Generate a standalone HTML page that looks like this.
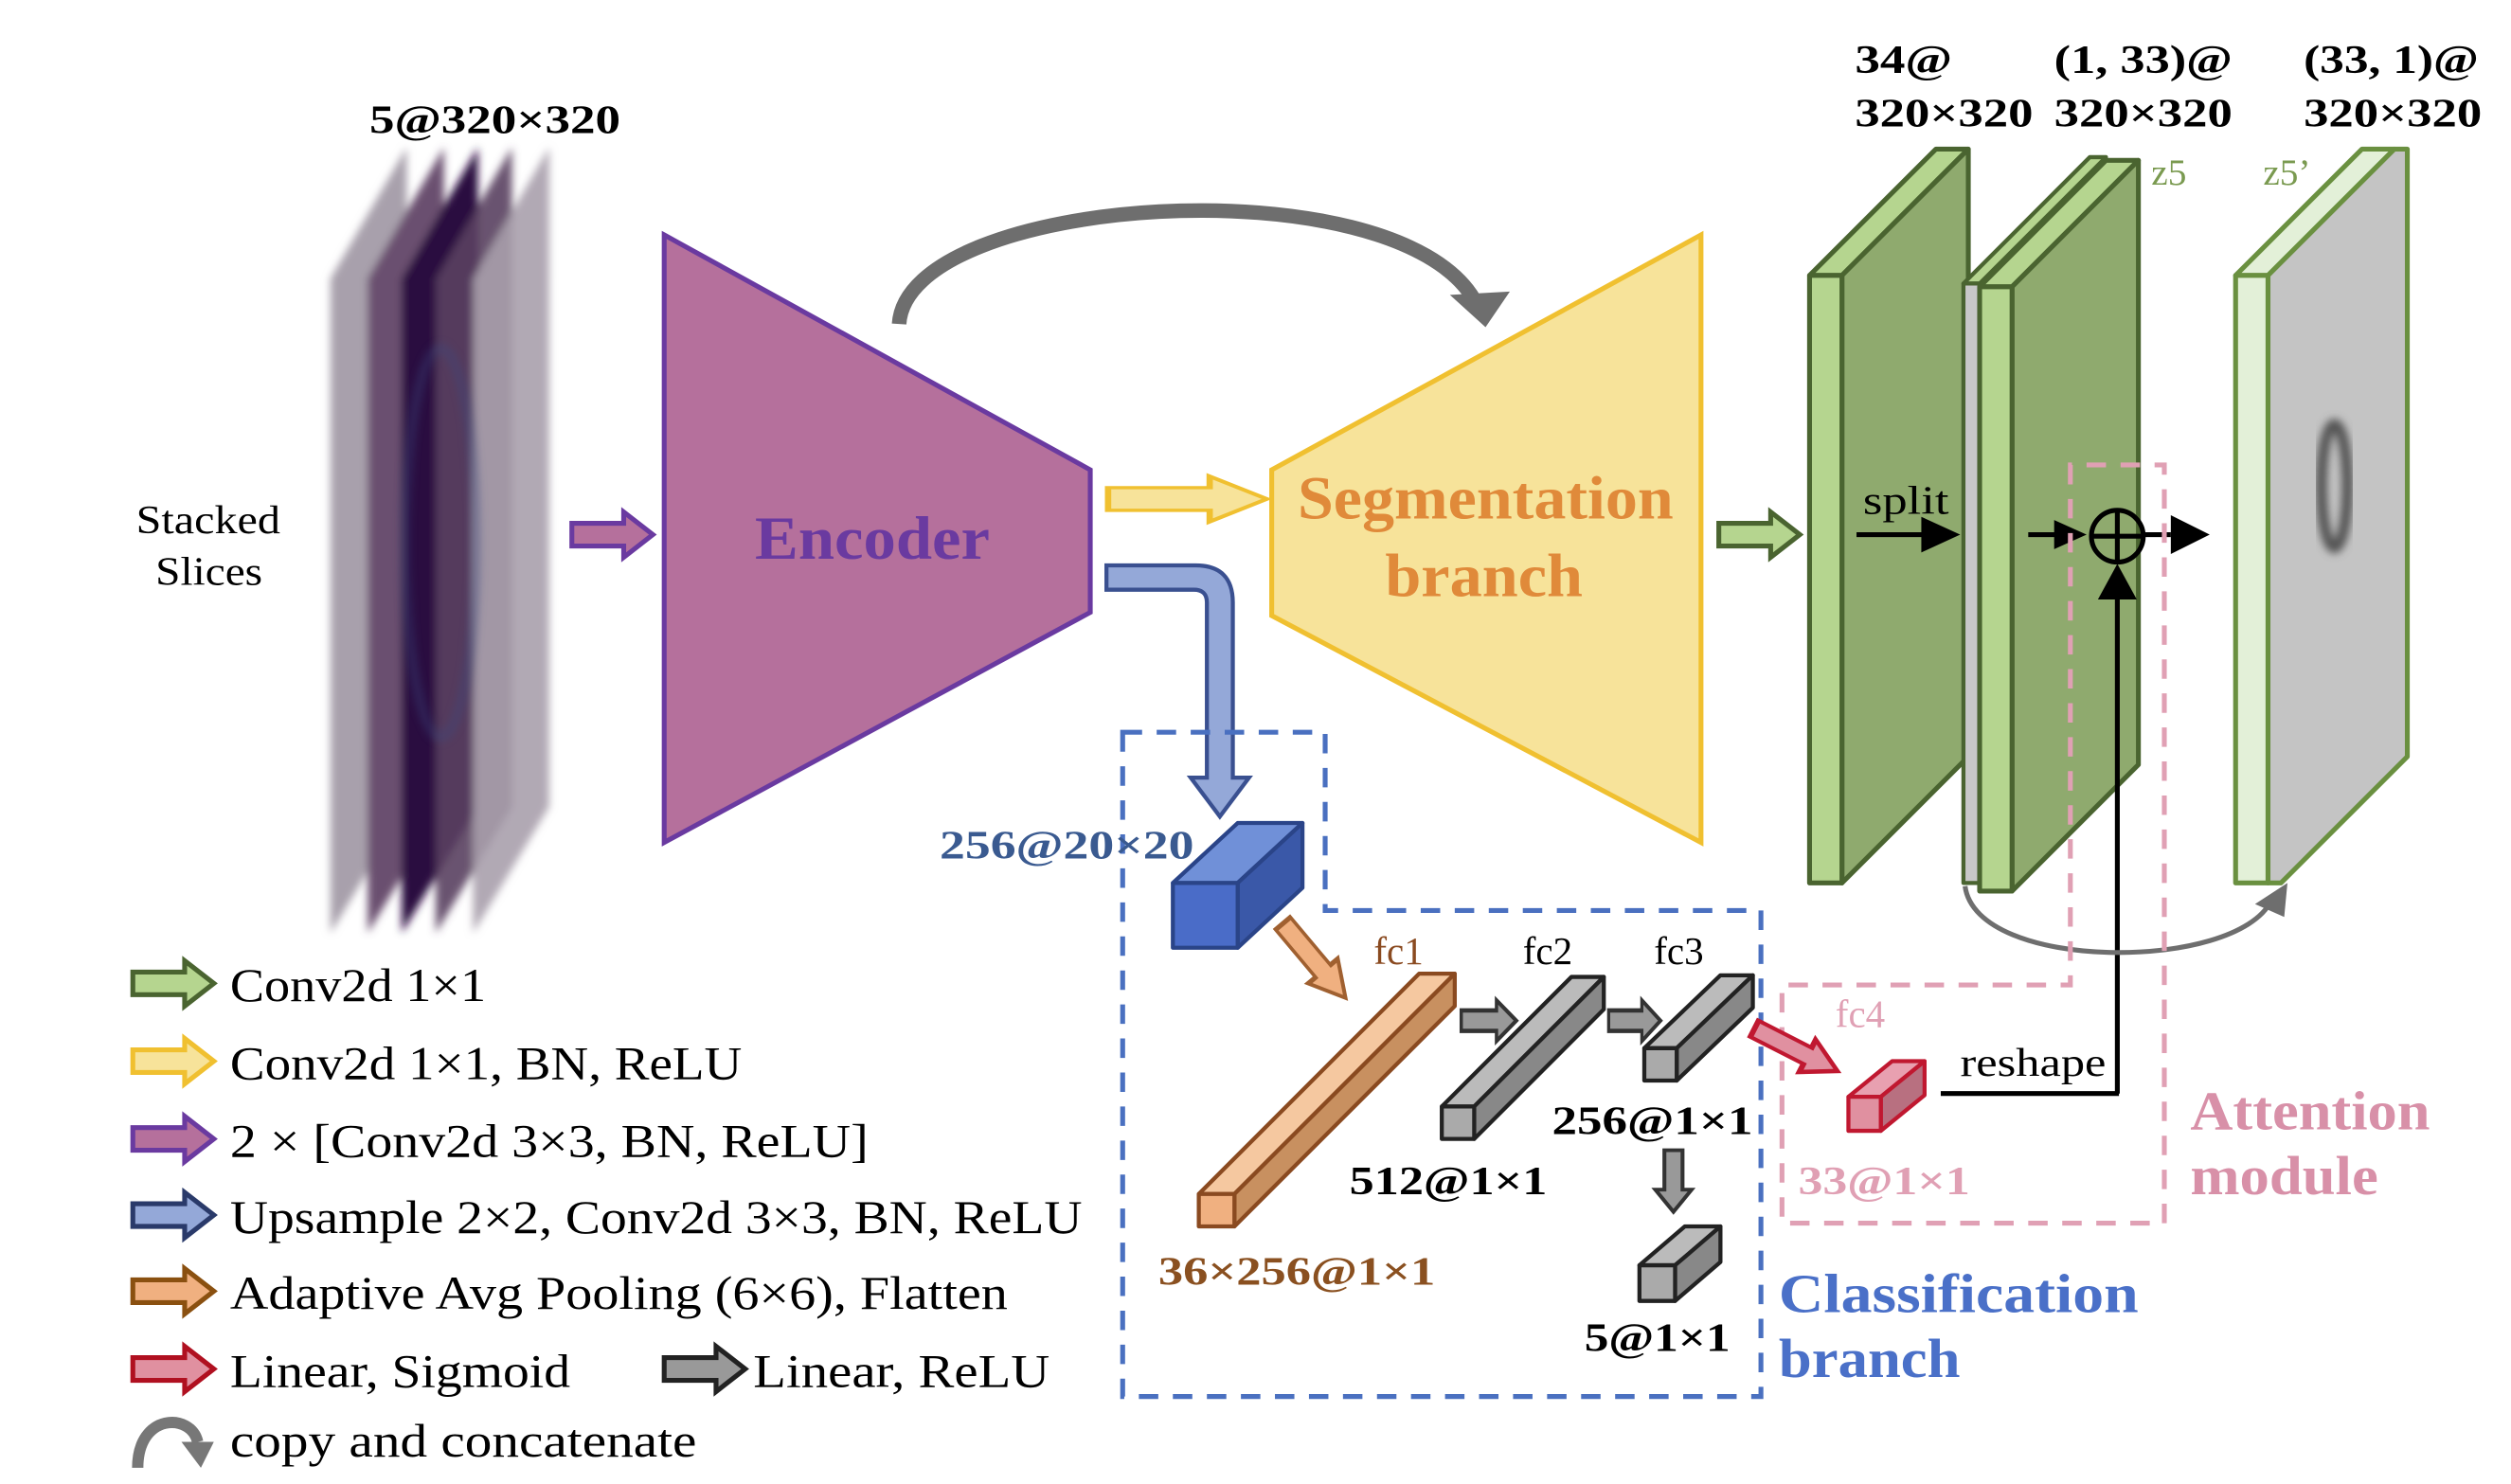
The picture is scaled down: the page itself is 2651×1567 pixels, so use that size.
<!DOCTYPE html>
<html><head><meta charset="utf-8"><style>
html,body{margin:0;padding:0;background:#fff;}
svg{display:block;}
text{font-family:"Liberation Serif",serif;}
</style></head><body>
<svg width="2651" height="1567" viewBox="0 0 1550 916" preserveAspectRatio="none" xmlns="http://www.w3.org/2000/svg">
<defs>
<filter id="bl" x="-20%" y="-20%" width="140%" height="140%"><feGaussianBlur stdDeviation="2.5"/></filter>
<path id="ar" d="M0,-7 H32 V-14 L50,0 L32,14 V7 H0Z"/>
</defs>

<g filter="url(#bl)">
<polygon points="204,172 251,91 251,498 204,576" fill="#a8a0ac"/>
<polygon points="227,172 274,91 274,498 227,576" fill="#6a5070"/>
<polygon points="248,172 295,91 295,498 248,576" fill="#2a0840"/>
<polygon points="269,172 316,91 316,498 269,576" fill="#5a4060" opacity="0.9"/>
<polygon points="292,172 339,91 339,498 292,576" fill="#a8a0ac" opacity="0.9"/>
</g>
<ellipse cx="272" cy="335" rx="22" ry="120" fill="none" stroke="#3a4a80" stroke-width="6" opacity="0.35" filter="url(#bl)"/>
<text x="228" y="82" font-size="25" font-weight="bold" textLength="155" lengthAdjust="spacingAndGlyphs">5@320×320</text>
<text x="84" y="329" font-size="25" textLength="89" lengthAdjust="spacingAndGlyphs">Stacked</text>
<text x="96" y="361" font-size="25" textLength="66" lengthAdjust="spacingAndGlyphs">Slices</text>

<use href="#ar" transform="translate(353,330)" fill="#b5709c" stroke="#6a3aa0" stroke-width="3"/>

<polygon points="410,145 673,290 673,378 410,520" fill="#b5709c" stroke="#6a3aa0" stroke-width="3"/>
<text x="466" y="345" font-size="38" font-weight="bold" fill="#6a3aa0" textLength="145" lengthAdjust="spacingAndGlyphs">Encoder</text>

<path d="M555,200 C560,120 860,100 910,185" fill="none" stroke="#6e6e6e" stroke-width="9"/>
<polygon points="895,182 932,180 917,202" fill="#6e6e6e"/>

<use href="#ar" transform="translate(684,308) scale(1.96,1)" fill="#f7e39a" stroke="#f0c030" stroke-width="2"/>

<path d="M683,349 H738 Q761,349 761,372 V480 H771 L753,504 L735,480 H745 V372 Q745,364 737,364 H683 Z" fill="#94a8d8" stroke="#3a5090" stroke-width="2.5"/>

<polygon points="785,290 1050,145 1050,520 785,380" fill="#f7e39a" stroke="#f0c030" stroke-width="3"/>
<text x="801" y="320" font-size="38" font-weight="bold" fill="#e08a3a" textLength="232" lengthAdjust="spacingAndGlyphs">Segmentation</text>
<text x="855" y="368" font-size="38" font-weight="bold" fill="#e08a3a" textLength="122" lengthAdjust="spacingAndGlyphs">branch</text>

<use href="#ar" transform="translate(1061,330)" fill="#b5d58f" stroke="#4a6430" stroke-width="3"/>

<g stroke="#4a6430" stroke-width="3" stroke-linejoin="round">
<polygon points="1117,170 1137,170 1215,92 1195,92" fill="#b5d58f"/>
<polygon points="1137,170 1215,92 1215,467 1137,545" fill="#8faa6e"/>
<rect x="1117" y="170" width="20" height="375" fill="#b5d58f"/>
</g>
<g stroke="#4a6430" stroke-width="2.5" stroke-linejoin="round">
<polygon points="1212,175 1222,175 1300,97 1290,97" fill="#b5d58f"/>
<rect x="1212" y="175" width="10" height="370" fill="#c8c8c8"/>
</g>
<g stroke="#4a6430" stroke-width="3" stroke-linejoin="round">
<polygon points="1222,177 1242,177 1320,99 1300,99" fill="#b5d58f"/>
<polygon points="1242,177 1320,99 1320,472 1242,550" fill="#8faa6e"/>
<rect x="1222" y="177" width="20" height="373" fill="#b5d58f"/>
</g>
<g stroke="#6a9040" stroke-width="3" stroke-linejoin="round">
<polygon points="1380,170 1400,170 1478,92 1458,92" fill="#e3f0d8"/>
<polygon points="1400,170 1478,92 1486,92 1486,467 1408,545 1400,545" fill="#c4c4c4"/>
<rect x="1380" y="170" width="20" height="375" fill="#e3f0d8"/>
</g>
<ellipse cx="1441" cy="300" rx="8" ry="38" fill="none" stroke="#555" stroke-width="7" filter="url(#bl)"/>

<g font-size="25" font-weight="bold">
<text x="1145" y="45" textLength="60" lengthAdjust="spacingAndGlyphs">34@</text>
<text x="1145" y="78" textLength="110" lengthAdjust="spacingAndGlyphs">320×320</text>
<text x="1268" y="45" textLength="110" lengthAdjust="spacingAndGlyphs">(1, 33)@</text>
<text x="1268" y="78" textLength="110" lengthAdjust="spacingAndGlyphs">320×320</text>
<text x="1422" y="45" textLength="108" lengthAdjust="spacingAndGlyphs">(33, 1)@</text>
<text x="1422" y="78" textLength="110" lengthAdjust="spacingAndGlyphs">320×320</text>
</g>
<text x="1328" y="114" font-size="23" fill="#7a9a50">z5</text>
<text x="1397" y="114" font-size="23" fill="#7a9a50">z5’</text>

<text x="1150" y="317" font-size="25" textLength="53" lengthAdjust="spacingAndGlyphs">split</text>
<line x1="1146" y1="330" x2="1188" y2="330" stroke="#000" stroke-width="3"/>
<polygon points="1186,319 1210,330 1186,341" fill="#000"/>
<line x1="1252" y1="330" x2="1272" y2="330" stroke="#000" stroke-width="3"/>
<polygon points="1268,321 1288,330 1268,339" fill="#000"/>
<circle cx="1307" cy="331" r="16" fill="none" stroke="#000" stroke-width="3"/>
<line x1="1291" y1="331" x2="1323" y2="331" stroke="#000" stroke-width="3"/>
<line x1="1307" y1="315" x2="1307" y2="347" stroke="#000" stroke-width="3"/>
<line x1="1323" y1="330" x2="1340" y2="330" stroke="#000" stroke-width="3"/>
<polygon points="1340,318 1364,330 1340,342" fill="#000"/>
<line x1="1307" y1="675" x2="1307" y2="368" stroke="#000" stroke-width="3"/>
<polygon points="1295,370 1307,348 1319,370" fill="#000"/>
<line x1="1198" y1="675" x2="1308" y2="675" stroke="#000" stroke-width="3"/>
<text x="1210" y="664" font-size="25" textLength="90" lengthAdjust="spacingAndGlyphs">reshape</text>

<path d="M1213,547 C1220,600 1380,600 1402,556" fill="none" stroke="#6e6e6e" stroke-width="3"/>
<polygon points="1392,558 1412,545 1410,566" fill="#6e6e6e"/>

<path d="M1278,287 V608 H1100 V755 H1336 V287 Z" fill="none" stroke="#e0a0b4" stroke-width="3" stroke-dasharray="12,9"/>
<text x="1352" y="697" font-size="34" font-weight="bold" fill="#d890a8" textLength="148" lengthAdjust="spacingAndGlyphs">Attention</text>
<text x="1352" y="737" font-size="34" font-weight="bold" fill="#d890a8" textLength="116" lengthAdjust="spacingAndGlyphs">module</text>

<path d="M693,452 H818 V562 H1087 V862 H693 Z" fill="none" stroke="#4a70c0" stroke-width="3" stroke-dasharray="12,9"/>
<text x="1098" y="810" font-size="34" font-weight="bold" fill="#4a70c8" textLength="222" lengthAdjust="spacingAndGlyphs">Classification</text>
<text x="1098" y="850" font-size="34" font-weight="bold" fill="#4a70c8" textLength="112" lengthAdjust="spacingAndGlyphs">branch</text>

<g stroke="#2a4488" stroke-width="2.5" stroke-linejoin="round">
<polygon points="724,545 764,545 804,508 764,508" fill="#7090d8"/>
<polygon points="764,545 804,508 804,548 764,585" fill="#3a58a8"/>
<rect x="724" y="545" width="40" height="40" fill="#4a6cc8"/>
</g>
<text x="580" y="530" font-size="25" font-weight="bold" fill="#3a5a90" textLength="157" lengthAdjust="spacingAndGlyphs">256@20×20</text>

<use href="#ar" transform="translate(792,570) rotate(50) scale(1.2,0.85)" fill="#f0b080" stroke="#a06030" stroke-width="2.5"/>

<g stroke="#8a4a20" stroke-width="2.5" stroke-linejoin="round">
<polygon points="740,737 762,737 898,601 876,601" fill="#f5c8a0"/>
<polygon points="762,737 898,601 898,621 762,757" fill="#c89060"/>
<rect x="740" y="737" width="22" height="20" fill="#f0b080"/>
</g>
<text x="848" y="595" font-size="24" fill="#8a4a20">fc1</text>
<text x="715" y="793" font-size="25" font-weight="bold" fill="#8a5020" textLength="171" lengthAdjust="spacingAndGlyphs">36×256@1×1</text>

<use href="#ar" transform="translate(902,630) scale(0.68,0.9)" fill="#999" stroke="#333" stroke-width="3"/>
<g stroke="#222" stroke-width="2.5" stroke-linejoin="round">
<polygon points="890,683 910,683 990,603 970,603" fill="#bbb"/>
<polygon points="910,683 990,603 990,623 910,703" fill="#888"/>
<rect x="890" y="683" width="20" height="20" fill="#aaa"/>
</g>
<text x="940" y="595" font-size="24">fc2</text>
<text x="833" y="737" font-size="25" font-weight="bold" textLength="122" lengthAdjust="spacingAndGlyphs">512@1×1</text>

<use href="#ar" transform="translate(993,630) scale(0.64,0.9)" fill="#999" stroke="#333" stroke-width="3"/>
<g stroke="#222" stroke-width="2.5" stroke-linejoin="round">
<polygon points="1015,647 1035,647 1082,602 1062,602" fill="#bbb"/>
<polygon points="1035,647 1082,602 1082,622 1035,667" fill="#888"/>
<rect x="1015" y="647" width="20" height="20" fill="#aaa"/>
</g>
<text x="1021" y="595" font-size="24">fc3</text>
<text x="958" y="700" font-size="25" font-weight="bold" textLength="124" lengthAdjust="spacingAndGlyphs">256@1×1</text>

<use href="#ar" transform="translate(1033,710) rotate(90) scale(0.76,0.8)" fill="#999" stroke="#333" stroke-width="3"/>
<g stroke="#222" stroke-width="2.5" stroke-linejoin="round">
<polygon points="1012,781 1034,781 1062,757 1040,757" fill="#bbb"/>
<polygon points="1034,781 1062,757 1062,779 1034,803" fill="#888"/>
<rect x="1012" y="781" width="22" height="22" fill="#aaa"/>
</g>
<text x="978" y="834" font-size="25" font-weight="bold" textLength="90" lengthAdjust="spacingAndGlyphs">5@1×1</text>

<use href="#ar" transform="translate(1083,635) rotate(27) scale(1.15,0.8)" fill="#e090a0" stroke="#c01830" stroke-width="3"/>
<g stroke="#c01830" stroke-width="2.5" stroke-linejoin="round">
<polygon points="1141,677 1161,677 1188,655 1168,655" fill="#e8a0b0"/>
<polygon points="1161,677 1188,655 1188,676 1161,698" fill="#b87080"/>
<rect x="1141" y="677" width="20" height="21" fill="#e090a0"/>
</g>
<text x="1133" y="634" font-size="24" fill="#e0a0b4">fc4</text>
<text x="1110" y="737" font-size="25" font-weight="bold" fill="#e0a0b4" textLength="106" lengthAdjust="spacingAndGlyphs">33@1×1</text>

<g stroke-width="3">
<use href="#ar" transform="translate(82,607)" fill="#b5d58f" stroke="#4a6430"/>
<use href="#ar" transform="translate(82,655)" fill="#f7e39a" stroke="#f0c030"/>
<use href="#ar" transform="translate(82,703)" fill="#b5709c" stroke="#6a3aa0"/>
<use href="#ar" transform="translate(82,750)" fill="#94a8d8" stroke="#2a3a6a"/>
<use href="#ar" transform="translate(82,797)" fill="#f0b080" stroke="#8a5010"/>
<use href="#ar" transform="translate(82,845)" fill="#e090a0" stroke="#b01020"/>
<use href="#ar" transform="translate(410,845)" fill="#999" stroke="#222"/>
</g>
<g font-size="29">
<text x="142" y="618" textLength="158" lengthAdjust="spacingAndGlyphs">Conv2d 1×1</text>
<text x="142" y="666" textLength="316" lengthAdjust="spacingAndGlyphs">Conv2d 1×1, BN, ReLU</text>
<text x="142" y="714" textLength="394" lengthAdjust="spacingAndGlyphs">2 × [Conv2d 3×3, BN, ReLU]</text>
<text x="142" y="761" textLength="526" lengthAdjust="spacingAndGlyphs">Upsample 2×2, Conv2d 3×3, BN, ReLU</text>
<text x="142" y="808" textLength="480" lengthAdjust="spacingAndGlyphs">Adaptive Avg Pooling (6×6), Flatten</text>
<text x="142" y="856" textLength="210" lengthAdjust="spacingAndGlyphs">Linear, Sigmoid</text>
<text x="465" y="856" textLength="183" lengthAdjust="spacingAndGlyphs">Linear, ReLU</text>
<text x="142" y="899" textLength="288" lengthAdjust="spacingAndGlyphs">copy and concatenate</text>
</g>
<path d="M85,906 C85,872 118,872 122,890" fill="none" stroke="#777" stroke-width="7"/>
<polygon points="112,890 132,890 124,906" fill="#777"/>
</svg>
</body></html>
